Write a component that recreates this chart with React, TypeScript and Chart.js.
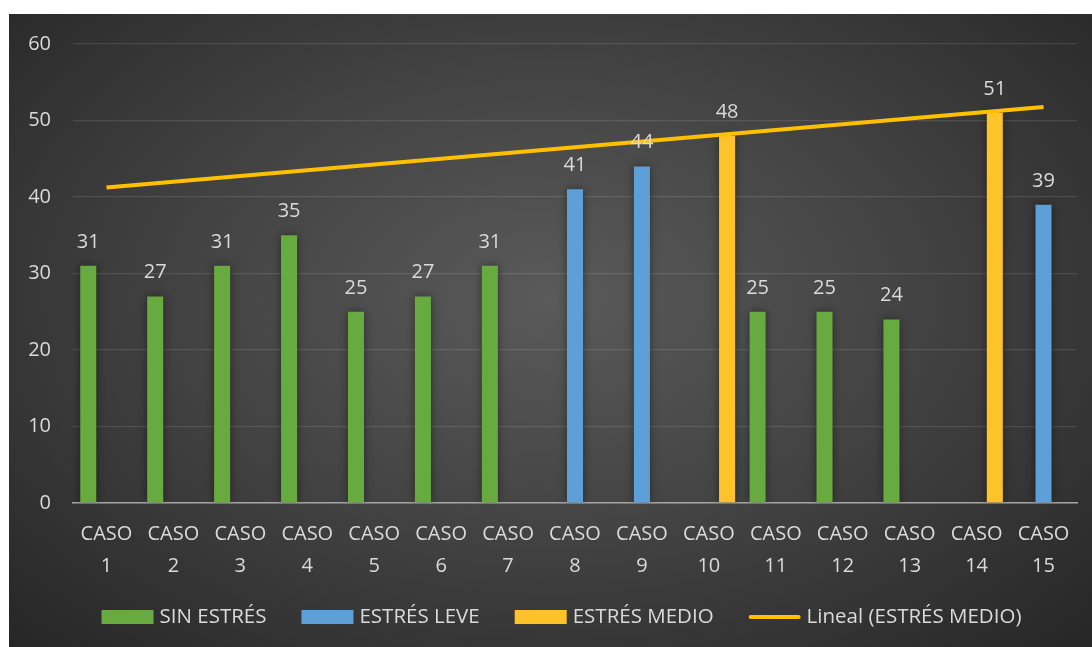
import React, { useEffect, useRef } from 'react';
import { Chart, registerables } from 'chart.js';

Chart.register(...registerables);

const categories = [
  'CASO 1', 'CASO 2', 'CASO 3', 'CASO 4', 'CASO 5', 'CASO 6', 'CASO 7', 'CASO 8',
  'CASO 9', 'CASO 10', 'CASO 11', 'CASO 12', 'CASO 13', 'CASO 14', 'CASO 15',
];
const sinEstres = [31, 27, 31, 35, 25, 27, 31, null, null, null, 25, 25, 24, null, null];
const estresLeve = [null, null, null, null, null, null, null, 41, 44, null, null, null, null, null, 39];
const estresMedio = [null, null, null, null, null, null, null, null, null, 48, null, null, null, 51, null];
const trendMedio = [41.25, null, null, null, null, null, null, null, null, null, null, null, null, null, 51.75];

const seriesNames = ['SIN ESTRÉS', 'ESTRÉS LEVE', 'ESTRÉS MEDIO', 'Lineal (ESTRÉS MEDIO)'];
const yMin = 0;
const yMax = 60;
const yStep = 10;

const TEXT = '#dadada';
const FONT = '"Open Sans", "DejaVu Sans", sans-serif';

const barShadow = {
  id: 'barShadow',
  beforeDatasetDraw(chart: any, args: any) {
    if (args.meta.type !== 'bar') return;
    const ctx = chart.ctx;
    ctx.save();
    ctx.shadowColor = 'rgba(0,0,0,0.45)';
    ctx.shadowBlur = 8;
    ctx.shadowOffsetX = 0;
    ctx.shadowOffsetY = 0;
  },
  afterDatasetDraw(chart: any, args: any) {
    if (args.meta.type !== 'bar') return;
    chart.ctx.restore();
  },
};

const dataLabels = {
  id: 'dataLabels',
  afterDatasetsDraw(chart: any) {
    const ctx = chart.ctx;
    ctx.save();
    ctx.font = `20px ${FONT}`;
    ctx.fillStyle = TEXT;
    ctx.textAlign = 'center';
    ctx.textBaseline = 'alphabetic';
    chart.data.datasets.forEach((ds: any, i: number) => {
      if (ds.type === 'line') return;
      const meta = chart.getDatasetMeta(i);
      meta.data.forEach((el: any, j: number) => {
        const v = ds.data[j];
        if (v === null || v === undefined) return;
        ctx.fillText(String(v), el.x, el.y - 18);
      });
    });
    ctx.restore();
  },
};

const customLegend = {
  id: 'customLegend',
  afterDraw(chart: any) {
    const ctx = chart.ctx;
    ctx.save();
    ctx.font = `20.5px ${FONT}`;
    const boxW = 52;
    const boxH = 14;
    const gapText = 6;
    const gapItem = 35;
    const cy = 603;
    const items = chart.data.datasets.map((ds: any) => ({
      label: ds.label,
      color: ds.type === 'line' ? ds.borderColor : ds.backgroundColor,
      line: ds.type === 'line',
    }));
    const widths = items.map((it: any) => boxW + gapText + ctx.measureText(it.label).width);
    const total = widths.reduce((a: number, b: number) => a + b, 0) + gapItem * (items.length - 1);
    let x = 552.5 - total / 2;
    items.forEach((it: any, k: number) => {
      if (it.line) {
        ctx.strokeStyle = it.color;
        ctx.lineWidth = 4;
        ctx.lineCap = 'round';
        ctx.beginPath();
        ctx.moveTo(x + 2, cy);
        ctx.lineTo(x + boxW - 2, cy);
        ctx.stroke();
      } else {
        ctx.fillStyle = it.color;
        ctx.fillRect(x, cy - boxH / 2, boxW, boxH);
      }
      ctx.fillStyle = TEXT;
      ctx.textAlign = 'left';
      ctx.textBaseline = 'middle';
      ctx.fillText(it.label, x + boxW + gapText, cy);
      x += widths[k] + gapItem;
    });
    ctx.restore();
  },
};

export default function App() {
  const canvasRef = useRef<HTMLCanvasElement | null>(null);

  useEffect(() => {
    if (!canvasRef.current) return;
    const chart = new Chart(canvasRef.current, {
      type: 'bar',
      data: {
        labels: categories,
        datasets: [
          {
            type: 'bar',
            label: seriesNames[0],
            data: sinEstres,
            backgroundColor: '#67aa3f',
            categoryPercentage: 0.816,
            barPercentage: 0.88,
            order: 1,
          },
          {
            type: 'bar',
            label: seriesNames[1],
            data: estresLeve,
            backgroundColor: '#5f9fd8',
            categoryPercentage: 0.816,
            barPercentage: 0.88,
            order: 1,
          },
          {
            type: 'bar',
            label: seriesNames[2],
            data: estresMedio,
            backgroundColor: '#ffc32a',
            categoryPercentage: 0.816,
            barPercentage: 0.88,
            order: 1,
          },
          {
            type: 'line',
            label: seriesNames[3],
            data: trendMedio,
            borderColor: '#ffc000',
            borderWidth: 4,
            pointRadius: 0,
            spanGaps: true,
            fill: false,
            order: 0,
          },
        ] as any,
      },
      options: {
        animation: false,
        responsive: true,
        maintainAspectRatio: false,
        layout: { padding: { top: 30, right: 15, bottom: 0, left: 0 } },
        plugins: {
          legend: { display: false },
          tooltip: { enabled: false },
        },
        scales: {
          x: {
            grid: { display: false, drawTicks: false },
            border: { display: true, color: '#a6a6a6', width: 1.5 },
            ticks: {
              color: TEXT,
              font: { family: FONT, size: 20, lineHeight: 1.62 },
              padding: 15,
              maxRotation: 0,
              autoSkip: false,
              callback: (_v: any, i: number) => categories[i].split(' '),
            },
            afterFit: (scale: any) => {
              scale.height = 144;
              scale.paddingLeft = 0;
              scale.paddingRight = 0;
            },
          },
          y: {
            min: yMin,
            max: yMax,
            grid: { color: 'rgba(255,255,255,0.11)', lineWidth: 1.3, drawTicks: false },
            border: { display: false },
            ticks: {
              stepSize: yStep,
              color: TEXT,
              font: { family: FONT, size: 20 },
              padding: 22,
            },
            afterFit: (scale: any) => {
              scale.width = 64;
              scale.paddingTop = 0;
              scale.paddingBottom = 0;
            },
          },
        },
      },
      plugins: [barShadow, dataLabels, customLegend],
    });
    return () => chart.destroy();
  }, []);

  return (
    <div
      style={{
        position: 'absolute',
        left: 9,
        top: 14,
        width: 1083,
        height: 633,
        background:
          'radial-gradient(ellipse farthest-corner at 50% 45%, #5a5a5a 0%, #444444 45%, #262626 100%)',
      }}
    >
      <canvas ref={canvasRef} />
    </div>
  );
}
